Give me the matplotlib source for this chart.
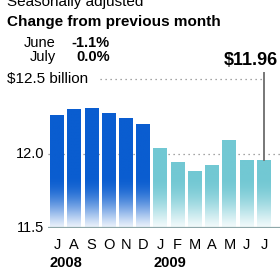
import matplotlib
matplotlib.use("Agg")
import matplotlib.pyplot as plt
import numpy as np
from matplotlib.colors import to_rgb

plt.rcParams['font.family'] = ['Liberation Sans', 'DejaVu Sans']

# Monthly values, $ billion
months = ['J', 'A', 'S', 'O', 'N', 'D', 'J', 'F', 'M', 'A', 'M', 'J', 'J']
values = [12.26, 12.30, 12.305, 12.27, 12.24, 12.20,
          12.035, 11.94, 11.88, 11.92, 12.09, 11.955, 11.955]
years = ['2008', '2009']
year_start = [0, 6]
changes_lbl = ['June', 'July']
changes_val = ['-1.1%', '0.0%']
last_label = '$11.96'

blue = '#0a5dd0'
teal = '#72c8d3'
ybase = 11.5
fade_top = 11.85

fig = plt.figure(figsize=(2.8, 2.7), dpi=100)
W, H = 280, 270
ax = fig.add_axes([48 / W, 1 - 228 / H, 232 / W, (228 - 79) / H])

x = np.arange(len(values))
cols = [blue] * 6 + [teal] * 7
bars = ax.bar(x, np.array(values) - ybase, bottom=ybase, width=0.81,
              color='none', edgecolor='none', zorder=3)

# gradient fill: solid colour, fading to white near the baseline
for b, c, v in zip(bars, cols, values):
    ys = np.linspace(ybase, v, 100)
    t = np.clip((ys - ybase) / (fade_top - ybase), 0, 1)
    t = 0.08 + 0.92 * np.sin(t * np.pi / 2) ** 1.2
    rgb = np.array(to_rgb(c))
    img = (1 - t)[:, None] * np.ones(3) + t[:, None] * rgb
    img = img[:, None, :]
    x0 = b.get_x()
    im = ax.imshow(img, extent=[x0, x0 + b.get_width(), ybase, v],
                   origin='lower', aspect='auto', zorder=3,
                   interpolation='bilinear')
    im.set_clip_path(b)

ax.set_xlim(-0.522, 12.93)
ax.set_ylim(11.5, 12.5)
ax.axis('off')

# gridlines
ax.plot([-0.522, 12.93], [12.0, 12.0], color='#888888', lw=0.9,
        ls=(0, (1, 3)), zorder=1)
ax.plot([2.5, 12.0], [12.5, 12.5], color='#888888', lw=0.9,
        ls=(0, (1, 3)), zorder=1, clip_on=False)
ax.axhline(ybase, color='#8fa8aa', lw=1.6, zorder=4)

# highlight last value
ax.plot([x[-1], x[-1]], [values[-1], 12.54], color='#777777', lw=1.4,
        zorder=5, clip_on=False)

# y labels
for v, lab in [(12.0, '12.0'), (11.5, '11.5')]:
    ax.text(-0.75, v, lab, ha='right', va='center', fontsize=10.5)
fig.text(7 / W, 1 - 79 / H, '$12.5 billion', ha='left', va='center',
         fontsize=11)

# month and year labels
for i, m in enumerate(months):
    fig.text((57 + 17.25 * i) / W, 1 - 245 / H, m, ha='center',
             va='center', fontsize=10.5)
for ys, yl in zip(year_start, years):
    fig.text((50 + 17.25 * ys) / W, 1 - 263 / H, yl, ha='left',
             va='center', fontsize=10.5, fontweight='bold')

# header
fig.text(7 / W, 1 - 2 / H, 'Seasonally adjusted', ha='left', va='center',
         fontsize=11)
fig.text(7 / W, 1 - 22 / H, 'Change from previous month', ha='left',
         va='center', fontsize=11, fontweight='bold')
for k, (l, v) in enumerate(zip(changes_lbl, changes_val)):
    yy = 1 - (43 + 14 * k) / H
    fig.text(56 / W, yy, l, ha='right', va='center', fontsize=10.5)
    fig.text(110 / W, yy, v, ha='right', va='center', fontsize=10.5,
             fontweight='bold')
fig.text(278 / W, 1 - 61 / H, last_label, ha='right', va='center',
         fontsize=13, fontweight='bold')

fig.savefig('out.png', dpi=100)
